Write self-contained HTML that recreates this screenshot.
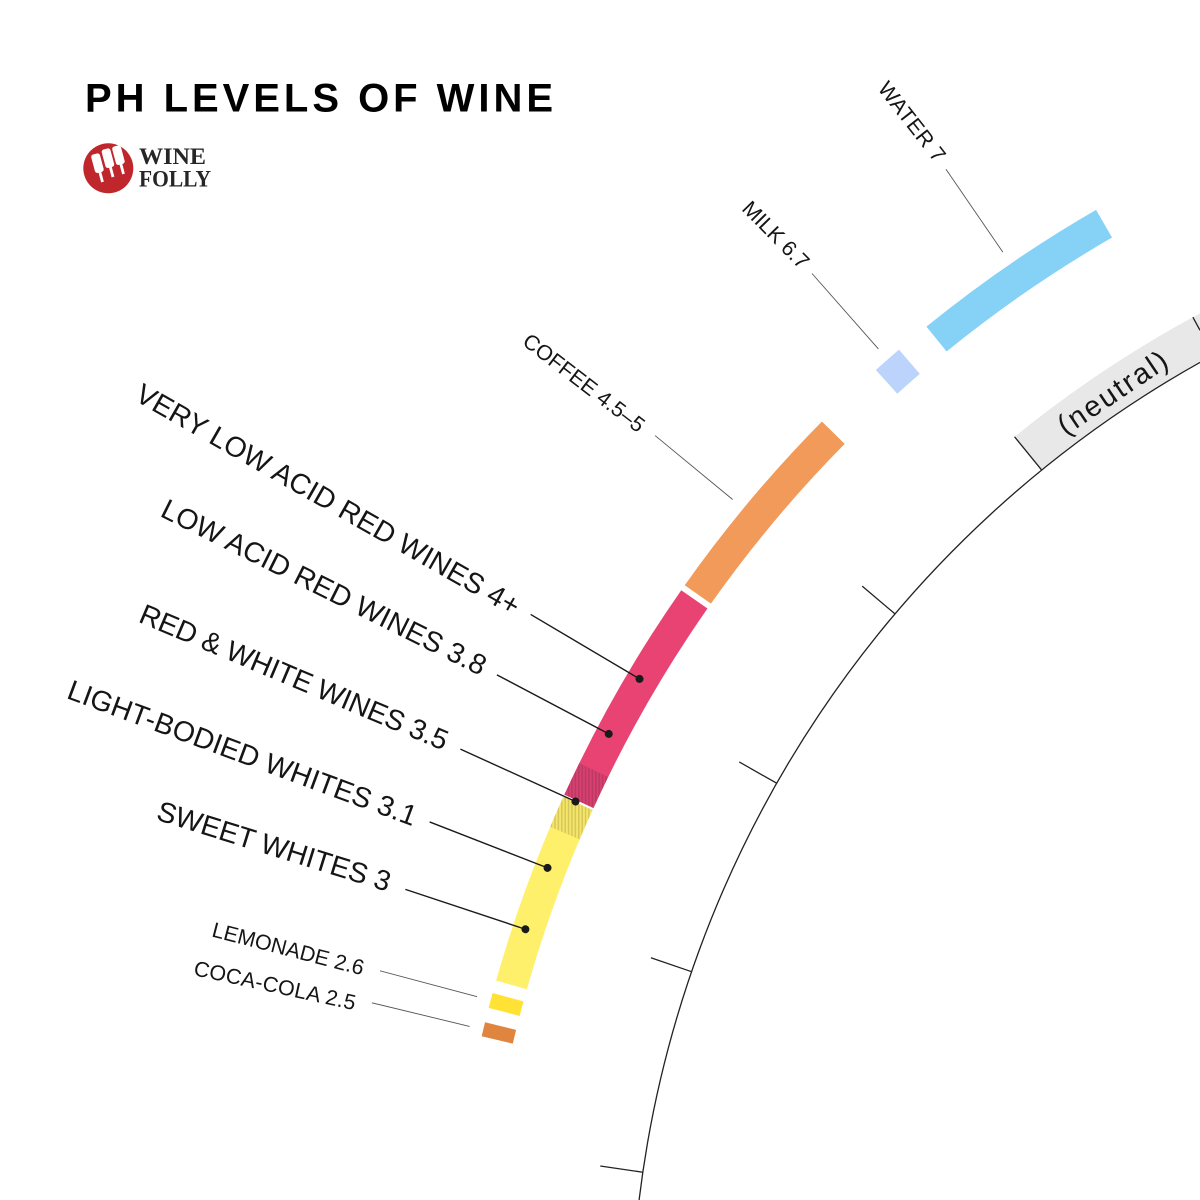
<!DOCTYPE html>
<html>
<head>
<meta charset="utf-8">
<style>
  html, body { margin:0; padding:0; background:#ffffff; }
  body { width:1200px; height:1200px; overflow:hidden; }
  svg { display:block; overflow:hidden; }
  .lbl { font-family:"Liberation Sans", sans-serif; fill:#151515; }
</style>
</head>
<body>
<svg width="1200" height="1200" viewBox="0 0 1200 1200" xmlns="http://www.w3.org/2000/svg">
  <defs>
    <pattern id="hp" patternUnits="userSpaceOnUse" width="3.4" height="20">
      <rect width="3.4" height="20" fill="#D6416F"/>
      <rect width="1.5" height="20" fill="#BC3865"/>
    </pattern>
    <pattern id="hy" patternUnits="userSpaceOnUse" width="3.4" height="20">
      <rect width="3.4" height="20" fill="#F4E66C"/>
      <rect width="1.5" height="20" fill="#D6C756"/>
    </pattern>
    <clipPath id="lc"><circle cx="108.3" cy="168.3" r="25"/></clipPath>
  </defs>

  <rect width="1200" height="1200" fill="#ffffff"/>

  <!-- Title -->
  <text x="85" y="111.5" font-family="Liberation Sans, sans-serif" font-weight="bold" font-size="40" fill="#000" textLength="468" lengthAdjust="spacing">PH LEVELS OF WINE</text>

  <!-- Logo -->
  <circle cx="108.3" cy="168.3" r="25" fill="#C0272D"/>
  <g clip-path="url(#lc)" fill="#ffffff">
    <g transform="translate(95,154) rotate(-15)">
      <rect x="-4.5" y="0" width="9" height="19" rx="2.5"/>
      <rect x="-1.4" y="17" width="2.8" height="12"/>
    </g>
    <g transform="translate(105.5,149) rotate(-15)">
      <rect x="-4.5" y="0" width="9" height="19" rx="2.5"/>
      <rect x="-1.4" y="17" width="2.8" height="12"/>
    </g>
    <g transform="translate(116,146) rotate(-15)">
      <rect x="-4.5" y="0" width="9" height="19" rx="2.5"/>
      <rect x="-1.4" y="17" width="2.8" height="12"/>
    </g>
  </g>
  <text x="139" y="164" font-family="Liberation Serif, serif" font-weight="bold" font-size="23" fill="#262626" textLength="67" lengthAdjust="spacingAndGlyphs">WINE</text>
  <text x="139" y="186.5" font-family="Liberation Serif, serif" font-weight="bold" font-size="23" fill="#262626" textLength="72" lengthAdjust="spacingAndGlyphs">FOLLY</text>

  <!-- Neutral band -->
  <path d="M1028.2,453.4 A1135.5,1135.5 0 0 1 1215.4,329.6" fill="none" stroke="#E8E8E8" stroke-width="43"/>

  <!-- Main arc -->
  <path d="M639.1,1200 A1114,1114 0 0 1 1200,362.4" fill="none" stroke="#222" stroke-width="1.3"/>

  <!-- Ticks -->
  <g stroke="#222" stroke-width="1.3">
    <line x1="2859" y1="1334" x2="2902" y2="1334" transform="rotate(188.35 1745 1334)"/>
    <line x1="2859" y1="1334" x2="2902" y2="1334" transform="rotate(198.98 1745 1334)"/>
    <line x1="2859" y1="1334" x2="2902" y2="1334" transform="rotate(209.63 1745 1334)"/>
    <line x1="2859" y1="1334" x2="2902" y2="1334" transform="rotate(220.27 1745 1334)"/>
    <line x1="2859" y1="1334" x2="2902" y2="1334" transform="rotate(230.85 1745 1334)"/>
    <line x1="1192.9" y1="317.2" x2="1200" y2="330.3"/>
  </g>

  <text class="lbl" transform="translate(1114,395) rotate(-34)" x="0" y="7" text-anchor="middle" font-size="29" textLength="126" lengthAdjust="spacing">(neutral)</text>

  <!-- Colored bars -->
  <g fill="none" stroke-width="32">
    <path d="M495.9,1045.6 A1282,1282 0 0 1 1123.5,212.7" stroke="#E0853F" stroke-dasharray="0 5.82 14.32 20000"/>
    <path d="M495.9,1045.6 A1282,1282 0 0 1 1123.5,212.7" stroke="#FFE234" stroke-dasharray="0 34.68 15.22 20000"/>
    <path d="M495.9,1045.6 A1282,1282 0 0 1 1123.5,212.7" stroke="#FFF06B" stroke-dasharray="0 62.65 193.54 20000"/>
    <path d="M495.9,1045.6 A1282,1282 0 0 1 1123.5,212.7" stroke="url(#hy)" stroke-dasharray="0 223.75 32.44 20000"/>
    <path d="M495.9,1045.6 A1282,1282 0 0 1 1123.5,212.7" stroke="#E94374" stroke-dasharray="0 258.43 232.93 20000"/>
    <path d="M495.9,1045.6 A1282,1282 0 0 1 1123.5,212.7" stroke="url(#hp)" stroke-dasharray="0 258.43 34.68 20000"/>
    <path d="M495.9,1045.6 A1282,1282 0 0 1 1123.5,212.7" stroke="#F29A59" stroke-dasharray="0 497.40 211.22 20000"/>
    <path d="M495.9,1045.6 A1282,1282 0 0 1 1123.5,212.7" stroke="#BCD4FB" stroke-dasharray="0 782.23 30.43 20000"/>
    <path d="M495.9,1045.6 A1282,1282 0 0 1 1123.5,212.7" stroke="#86D2F7" stroke-dasharray="0 848.01 203.61 20000"/>
  </g>

  <!-- Non-wine leaders -->
  <g stroke="#555" stroke-width="0.9">
    <line x1="3057" y1="1334" x2="3157.5" y2="1334" transform="rotate(235.55 1745 1334)"/>
    <line x1="3057" y1="1334" x2="3157.5" y2="1334" transform="rotate(228.66 1745 1334)"/>
    <line x1="3057" y1="1334" x2="3157.5" y2="1334" transform="rotate(219.5 1745 1334)"/>
    <line x1="3057" y1="1334" x2="3157.5" y2="1334" transform="rotate(194.9 1745 1334)"/>
    <line x1="3057" y1="1334" x2="3157.5" y2="1334" transform="rotate(193.56 1745 1334)"/>
  </g>

  <!-- Wine leaders and dots -->
  <g stroke="#1a1a1a" stroke-width="1.4">
    <line x1="3030" y1="1334" x2="3156.5" y2="1334" transform="rotate(198.36 1745 1334)"/>
    <line x1="3030" y1="1334" x2="3156.5" y2="1334" transform="rotate(201.27 1745 1334)"/>
    <line x1="3030" y1="1334" x2="3156.5" y2="1334" transform="rotate(204.48 1745 1334)"/>
    <line x1="3030" y1="1334" x2="3156.5" y2="1334" transform="rotate(207.84 1745 1334)"/>
    <line x1="3030" y1="1334" x2="3156.5" y2="1334" transform="rotate(210.65 1745 1334)"/>
  </g>
  <g fill="#1a1a1a">
    <circle cx="3030" cy="1334" r="4" transform="rotate(198.36 1745 1334)"/>
    <circle cx="3030" cy="1334" r="4" transform="rotate(201.27 1745 1334)"/>
    <circle cx="3030" cy="1334" r="4" transform="rotate(204.48 1745 1334)"/>
    <circle cx="3030" cy="1334" r="4" transform="rotate(207.84 1745 1334)"/>
    <circle cx="3030" cy="1334" r="4" transform="rotate(210.65 1745 1334)"/>
  </g>

  <!-- Wine labels -->
  <g class="lbl" font-size="28.5" text-anchor="middle">
    <text transform="translate(328.3,499.2) rotate(29.7)" x="0" y="10.2" textLength="437" lengthAdjust="spacing">VERY LOW ACID RED WINES 4+</text>
    <text transform="translate(324.2,586.7) rotate(26.5)" x="0" y="10.2" textLength="359" lengthAdjust="spacing">LOW ACID RED WINES 3.8</text>
    <text transform="translate(294.2,676.7) rotate(22.9)" x="0" y="10.2" textLength="332" lengthAdjust="spacing">RED &amp; WHITE WINES 3.5</text>
    <text transform="translate(242.5,752.5) rotate(20.3)" x="0" y="10.2" textLength="370" lengthAdjust="spacing">LIGHT-BODIED WHITES 3.1</text>
    <text transform="translate(274.2,845.8) rotate(17.3)" x="0" y="10.2" textLength="243" lengthAdjust="spacing">SWEET WHITES 3</text>
  </g>

  <!-- Small labels -->
  <g class="lbl" font-size="21.4" text-anchor="middle">
    <text transform="translate(288.3,948.3) rotate(14.5)" x="0" y="7.7" textLength="156" lengthAdjust="spacing">LEMONADE 2.6</text>
    <text transform="translate(275,985) rotate(12.3)" x="0" y="7.7" textLength="165" lengthAdjust="spacing">COCA-COLA 2.5</text>
    <text transform="translate(584.2,382.5) rotate(37.5)" x="0" y="7.7" textLength="147" lengthAdjust="spacing">COFFEE 4.5–5</text>
    <text transform="translate(776.2,234.5) rotate(45.5)" x="0" y="7.7" textLength="85" lengthAdjust="spacing">MILK 6.7</text>
    <text transform="translate(912.3,121.5) rotate(52)" x="0" y="7.7" textLength="95" lengthAdjust="spacing">WATER 7</text>
  </g>
</svg>
</body>
</html>
